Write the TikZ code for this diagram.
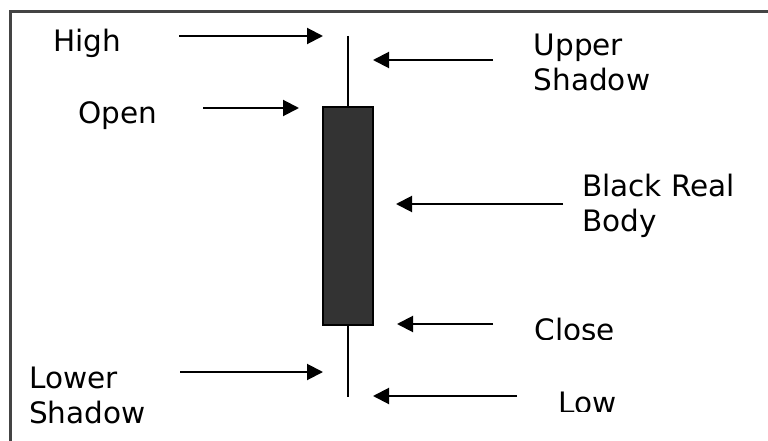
\documentclass[tikz,border=0pt]{standalone}
\usepackage{fontspec}
\setmainfont{DejaVu Sans}
\usetikzlibrary{arrows.meta}
\definecolor{bodyfill}{HTML}{333333}
\definecolor{framecol}{HTML}{444444}
\begin{document}
\begin{tikzpicture}[x=1pt,y=-1pt,
  lbl/.style={anchor=base west,inner sep=0pt,align=left,font=\fontsize{29.5}{35}\selectfont},
  ptr/.style={line width=2pt,-{Triangle[length=16pt,width=16pt]}},
  wick/.style={line width=2pt},
  candlebody/.style={draw=black,line width=2pt,fill=bodyfill}]
\useasboundingbox (0,0) rectangle (768,441);
\draw[framecol,line width=3pt] (10.8,445) -- (10.8,11.5) -- (772,11.5);
% candle
\coordinate (wtop) at (348,36);
\coordinate (wbot) at (348,397);
\draw[wick] (wtop) -- (wbot);
\path[candlebody] (323,107) rectangle (373,325);
% labels (multi-line nodes: base = last line)
\node[lbl] (high) at (53,52) {High};
\node[lbl] (open) at (78.5,124) {Open};
\node[lbl] (upper) at (533.5,91) {Upper\\Shadow};
\node[lbl] (black) at (582,231) {Black Real\\Body};
\node[lbl] (lower) at (29,423) {Lower\\Shadow};
\begin{scope}
\clip (500,300) rectangle (700,339);
\node[lbl] (close) at (534.5,340) {Close};
\end{scope}
\begin{scope}
\clip (500,380) rectangle (700,411);
\node[lbl] (low) at (558,413) {Low};
\end{scope}
% arrow ends
\coordinate (hA) at (179,36);  \coordinate (hB) at (323,36);
\coordinate (oA) at (203,108); \coordinate (oB) at (299,108);
\coordinate (uA) at (493,60);  \coordinate (uB) at (373,60);
\coordinate (bA) at (563,204); \coordinate (bB) at (396,204);
\coordinate (cA) at (493,324); \coordinate (cB) at (397,324);
\coordinate (lA) at (180,372); \coordinate (lB) at (323,372);
\coordinate (wA) at (517,396); \coordinate (wB) at (373,396);
\draw[ptr] (hA) -- (hB);
\draw[ptr] (oA) -- (oB);
\draw[ptr] (uA) -- (uB);
\draw[ptr] (bA) -- (bB);
\draw[ptr] (cA) -- (cB);
\draw[ptr] (lA) -- (lB);
\draw[ptr] (wA) -- (wB);
\end{tikzpicture}
\end{document}
